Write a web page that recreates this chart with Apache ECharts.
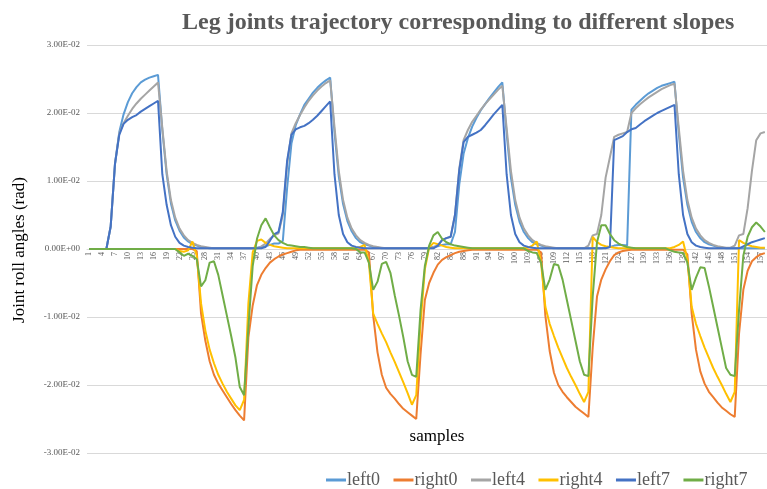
<!DOCTYPE html>
<html><head><meta charset="utf-8">
<script src="https://cdn.jsdelivr.net/npm/echarts@6/dist/echarts.min.js"></script>
<style>html,body{margin:0;padding:0;background:#fff}#c{width:767px;height:489px}</style>
</head><body><div id="c"></div>
<script>
const samples = [1,2,3,4,5,6,7,8,9,10,11,12,13,14,15,16,17,18,19,20,21,22,23,24,25,26,27,28,29,30,31,32,33,34,35,36,37,38,39,40,41,42,43,44,45,46,47,48,49,50,51,52,53,54,55,56,57,58,59,60,61,62,63,64,65,66,67,68,69,70,71,72,73,74,75,76,77,78,79,80,81,82,83,84,85,86,87,88,89,90,91,92,93,94,95,96,97,98,99,100,101,102,103,104,105,106,107,108,109,110,111,112,113,114,115,116,117,118,119,120,121,122,123,124,125,126,127,128,129,130,131,132,133,134,135,136,137,138,139,140,141,142,143,144,145,146,147,148,149,150,151,152,153,154,155,156,157,158];

const left0 = [
0,0,0,0,0,0.0033,0.0125,0.0172,0.0198,0.0216,
0.0229,0.0238,0.0245,0.0249,0.0252,0.0254,0.0256,0.0175,0.011,0.0067,
0.0042,0.0027,0.0017,0.0011,0.0007,0.0005,0.0003,0.0002,0.0001,0.0001,
0.0001,0.0001,0.0001,0.0001,0.0001,0.0001,0.0001,0.0001,0.0001,0.0002,
0.0003,0.0004,0.0006,0.0008,0.0008,0.0012,0.009,0.0155,0.0182,0.0198,
0.0212,0.0221,0.023,0.0237,0.0243,0.0248,0.0252,0.0172,0.0107,0.0066,
0.0041,0.0026,0.0016,0.001,0.0007,0.0005,0.0003,0.0002,0.0001,0.0001,
0.0001,0.0001,0.0001,0.0001,0.0001,0.0001,0.0001,0.0001,0.0001,0.0002,
0.0003,0.0004,0.0006,0.0007,0.0007,0.0025,0.0095,0.014,0.0163,0.018,
0.0193,0.0204,0.0213,0.0222,0.023,0.0238,0.0245,0.017,0.0105,0.0065,
0.004,0.0025,0.0016,0.001,0.0007,0.0005,0.0003,0.0002,0.0001,0.0001,
0.0001,0.0001,0.0001,0.0001,0.0001,0.0001,0.0001,0.0001,0.0001,0.0001,
0.0002,0.0003,0.0005,0.0006,0.0006,0.0005,0.0205,0.0212,0.0218,0.0224,
0.0229,0.0233,0.0237,0.024,0.0242,0.0244,0.0246,0.017,0.0105,0.0065,
0.004,0.0025,0.0016,0.001,0.0007,0.0005,0.0003,0.0002,0.0001,0.0001,
0.0001,0.0001,0.0001,0.0001,0.0001,0.0001,0.0001,0.0001];

const right0 = [
0,0,0,0,0,0,0,0,0,0,
0,0,0,0,0,0,0,0,0,0,
0,0,0,0,0,-0.0003,-0.0095,-0.0135,-0.0165,-0.0185,
-0.0198,-0.0208,-0.0218,-0.0228,-0.0237,-0.0245,-0.0252,-0.013,-0.0083,-0.0053,
-0.0038,-0.0028,-0.002,-0.0015,-0.0011,-0.0008,-0.0006,-0.0004,-0.0002,-0.0001,
-0.0001,-0.0001,-0.0001,-0.0001,-0.0001,-0.0001,-0.0001,-0.0001,-0.0001,-0.0001,
-0.0001,-0.0001,-0.0001,-0.0001,-0.0001,-0.0005,-0.0098,-0.0152,-0.0185,-0.0204,
-0.0213,-0.022,-0.0228,-0.0235,-0.024,-0.0245,-0.025,-0.0155,-0.0075,-0.005,
-0.0035,-0.0023,-0.0016,-0.0012,-0.0009,-0.0006,-0.0004,-0.0003,-0.0002,-0.0001,
-0.0001,-0.0001,-0.0001,-0.0001,-0.0001,-0.0001,-0.0001,-0.0001,-0.0001,-0.0001,
-0.0001,-0.0001,-0.0001,-0.0001,-0.0001,-0.0005,-0.0098,-0.015,-0.0182,-0.02,
-0.021,-0.0218,-0.0225,-0.0232,-0.0237,-0.0242,-0.0247,-0.0145,-0.007,-0.0045,
-0.003,-0.0018,-0.0009,-0.0005,-0.0003,-0.0002,-0.0001,-0.0001,-0.0001,-0.0001,
-0.0001,-0.0001,-0.0001,-0.0001,-0.0001,-0.0001,-0.0001,-0.0001,-0.0001,-0.0008,
-0.0095,-0.0148,-0.018,-0.0198,-0.021,-0.0218,-0.0226,-0.0233,-0.0238,-0.0243,
-0.0247,-0.0125,-0.006,-0.0032,-0.0018,-0.0012,-0.0008,-0.0006];

const left4 = [
0,0,0,0,0,0.0033,0.0125,0.017,0.0185,0.0196,
0.0206,0.0214,0.0221,0.0227,0.0233,0.0239,0.0245,0.0178,0.0115,0.0072,
0.0046,0.003,0.002,0.0013,0.0009,0.0006,0.0004,0.0003,0.0002,0.0001,
0.0001,0.0001,0.0001,0.0001,0.0001,0.0001,0.0001,0.0001,0.0001,0.0001,
0.0004,0.0008,0.0015,0.002,0.0023,0.005,0.0125,0.017,0.0185,0.0197,
0.0208,0.0218,0.0226,0.0233,0.0239,0.0244,0.0248,0.018,0.0115,0.0072,
0.0046,0.003,0.002,0.0013,0.0009,0.0006,0.0004,0.0003,0.0002,0.0001,
0.0001,0.0001,0.0001,0.0001,0.0001,0.0001,0.0001,0.0001,0.0001,0.0001,
0.0003,0.0005,0.0013,0.0016,0.0018,0.005,0.0118,0.016,0.0175,0.0187,
0.0196,0.0205,0.0213,0.022,0.0227,0.0234,0.024,0.0178,0.0115,0.0072,
0.0046,0.003,0.002,0.0013,0.0009,0.0006,0.0004,0.0003,0.0002,0.0001,
0.0001,0.0001,0.0001,0.0001,0.0001,0.0001,0.0005,0.002,0.0022,0.005,
0.0105,0.0135,0.0165,0.0168,0.017,0.0172,0.02,0.0207,0.0213,0.0218,
0.0223,0.0227,0.0231,0.0235,0.0238,0.0241,0.0243,0.0178,0.0115,0.0072,
0.0046,0.003,0.002,0.0013,0.0009,0.0006,0.0004,0.0003,0.0002,0.0002,
0.0005,0.002,0.0022,0.006,0.0115,0.016,0.017,0.0172];

const right4 = [
0,0,0,0,0,0,0,0,0,0,
0,0,0,0,0,0,0,0,0,0,
0,-0.0003,-0.0004,-0.0002,0.0011,-0.001,-0.008,-0.012,-0.0148,-0.0168,
-0.0185,-0.0198,-0.021,-0.022,-0.023,-0.0237,-0.0222,-0.008,-0.0005,0.0012,
0.0014,0.0009,0.0006,0.0004,0.0003,0.0002,0.0001,0.0001,0.0001,0.0001,
0.0001,0.0001,0.0001,0.0001,0.0001,0.0001,0.0001,0.0001,0.0001,0.0001,
0.0001,0.0001,0.0001,0.0003,0.0006,-0.002,-0.0095,-0.011,-0.0124,-0.0137,
-0.0152,-0.0166,-0.0181,-0.0196,-0.0212,-0.0229,-0.0215,-0.011,-0.003,0.0002,
0.0009,0.0007,0.0005,0.0003,0.0002,0.0001,0.0001,0.0001,0.0001,0.0001,
0.0001,0.0001,0.0001,0.0001,0.0001,0.0001,0.0001,0.0001,0.0001,0.0001,
0.0001,0.0001,0.0002,0.0005,0.0011,-0.002,-0.0085,-0.011,-0.0128,-0.0145,
-0.016,-0.0175,-0.0188,-0.02,-0.0213,-0.0225,-0.021,0.0018,0.001,0.0006,
0.0004,0.0003,0.0002,0.0001,0.0001,0.0001,0.0001,0.0001,0.0001,0.0001,
0.0001,0.0001,0.0001,0.0001,0.0001,0.0001,0.0003,0.0006,0.0011,-0.0015,
-0.0085,-0.011,-0.0128,-0.0145,-0.016,-0.0175,-0.0188,-0.02,-0.0213,-0.0225,
-0.021,0.0013,0.0009,0.0006,0.0004,0.0003,0.0002,0.0002];

const left7 = [
0,0,0,0,0,0.0033,0.0125,0.0168,0.0184,0.019,
0.0194,0.0197,0.0202,0.0206,0.021,0.0214,0.0218,0.011,0.0065,0.0035,
0.0018,0.0009,0.0005,0.0003,0.0002,0.0001,0.0001,0.0001,0.0001,0.0001,
0.0001,0.0001,0.0001,0.0001,0.0001,0.0001,0.0001,0.0001,0.0001,0.0001,
0.0001,0.0003,0.0012,0.0022,0.0025,0.0055,0.013,0.0168,0.0176,0.0179,
0.0181,0.0185,0.019,0.0196,0.0203,0.021,0.0217,0.011,0.005,0.0022,
0.001,0.0005,0.0003,0.0002,0.0001,0.0001,0.0001,0.0001,0.0001,0.0001,
0.0001,0.0001,0.0001,0.0001,0.0001,0.0001,0.0001,0.0001,0.0001,0.0001,
0.0001,0.0005,0.0013,0.0016,0.0018,0.005,0.0116,0.0157,0.0165,0.0168,
0.0171,0.0175,0.0182,0.019,0.0198,0.0205,0.0212,0.011,0.005,0.0022,
0.001,0.0005,0.0003,0.0002,0.0001,0.0001,0.0001,0.0001,0.0001,0.0001,
0.0001,0.0001,0.0001,0.0001,0.0001,0.0001,0.0001,0.0001,0.0001,0.0001,
0.0001,0.0003,0.016,0.0163,0.0166,0.0172,0.0176,0.0178,0.0183,0.0188,
0.0192,0.0196,0.02,0.0203,0.0206,0.0209,0.0212,0.011,0.005,0.0022,
0.001,0.0005,0.0003,0.0002,0.0001,0.0001,0.0001,0.0001,0.0001,0.0001,
0.0001,0.0001,0.0004,0.0007,0.001,0.0012,0.0014,0.0016];

const right7 = [
0,0,0,0,0,0,0,0,0,0,
0,0,0,0,0,0,0,0,0,0,
0,-0.0005,-0.001,-0.0007,-0.001,-0.0015,-0.0055,-0.0046,-0.002,-0.0018,
-0.0038,-0.0068,-0.0098,-0.0128,-0.016,-0.0203,-0.0215,-0.0115,-0.0025,0.0015,
0.0035,0.0045,0.0032,0.002,0.0013,0.0009,0.0006,0.0005,0.0004,0.0003,
0.0003,0.0002,0.0001,0.0001,0.0001,0.0001,0.0001,0.0001,0.0001,0.0001,
0.0001,0.0001,0,-0.0005,-0.0005,-0.002,-0.006,-0.0048,-0.0022,-0.0019,
-0.0035,-0.0068,-0.0098,-0.013,-0.0165,-0.0185,-0.0188,-0.009,-0.0025,0.0005,
0.002,0.0025,0.0015,0.001,0.0007,0.0005,0.0004,0.0003,0.0002,0.0001,
0.0001,0.0001,0.0001,0.0001,0.0001,0.0001,0.0001,0.0001,0.0001,0.0001,
0.0001,0.0001,-0.0003,-0.0005,-0.0006,-0.002,-0.006,-0.0045,-0.0022,-0.0024,
-0.0045,-0.0075,-0.0105,-0.0135,-0.0165,-0.0185,-0.0187,-0.007,0.001,0.0035,
0.0035,0.0022,0.0013,0.0008,0.0005,0.0003,0.0002,0.0001,0.0001,0.0001,
0.0001,0.0001,0.0001,0.0001,0.0001,-0.0002,-0.0004,-0.0005,-0.0006,-0.002,
-0.006,-0.0042,-0.0027,-0.0028,-0.0055,-0.0085,-0.0115,-0.0145,-0.0175,-0.0185,
-0.0187,-0.009,-0.001,0.0018,0.0032,0.0039,0.0033,0.0025];

const seriesNames = ['left0','right0','left4','right4','left7','right7'];
const seriesData = [left0, right0, left4, right4, left7, right7];
const colors = ['#5B9BD5','#ED7D31','#A5A5A5','#FFC000','#4472C4','#70AD47'];

function sci(v){
  if (Math.abs(v) < 1e-9) return '0.00E+00';
  const e = Math.floor(Math.log10(Math.abs(v)) + 1e-9);
  const m = v / Math.pow(10, e);
  return m.toFixed(2) + 'E' + (e < 0 ? '-' : '+') + String(Math.abs(e)).padStart(2, '0');
}

const serif = '"Liberation Serif", "Times New Roman", serif';
const chart = echarts.init(document.getElementById('c'));
chart.setOption({
  animation: false,
  color: colors,
  title: {
    text: 'Leg joints trajectory corresponding to different slopes',
    left: 177, top: 6,
    textStyle: { fontFamily: serif, fontWeight: 'bold', fontSize: 24, color: '#595959' }
  },
  grid: { left: 87, right: -7, top: 45, bottom: 36 },
  legend: {
    data: seriesNames,
    left: 321, top: 466,
    icon: 'rect', itemWidth: 20, itemHeight: 3, itemGap: 13.5,
    textStyle: { fontFamily: serif, fontSize: 18, color: '#595959', padding: [0,0,0,-4] }
  },
  xAxis: {
    type: 'category',
    data: samples,
    boundaryGap: true,
    offset: -204,
    axisLine: { onZero: false, lineStyle: { color: '#D9D9D9' } },
    axisTick: { show: false },
    axisLabel: { interval: 2, rotate: 90, fontSize: 8, color: '#595959', fontFamily: serif, margin: 3 },
    splitLine: { show: false }
  },
  yAxis: {
    type: 'value',
    min: -0.03, max: 0.03, interval: 0.01,
    axisLine: { show: false },
    axisTick: { show: false },
    axisLabel: { formatter: sci, fontSize: 9, color: '#595959', fontFamily: serif, margin: 7 },
    splitLine: { lineStyle: { color: '#D9D9D9', width: 1 } }
  },
  graphic: [
    { type: 'text', position: [437, 437], style: { text: 'samples', font: '17px ' + serif, fill: '#000', textAlign: 'center', textVerticalAlign: 'middle' } },
    { type: 'text', position: [20, 250], rotation: Math.PI / 2, style: { text: 'Joint roll angles (rad)', font: '17px ' + serif, fill: '#000', textAlign: 'center', textVerticalAlign: 'middle' } }
  ],
  series: seriesNames.map((n, i) => ({
    name: n, type: 'line', data: seriesData[i], showSymbol: false, symbol: 'none',
    lineStyle: { width: 2, color: colors[i] }, itemStyle: { color: colors[i] }
  }))
});
</script>
</body></html>
